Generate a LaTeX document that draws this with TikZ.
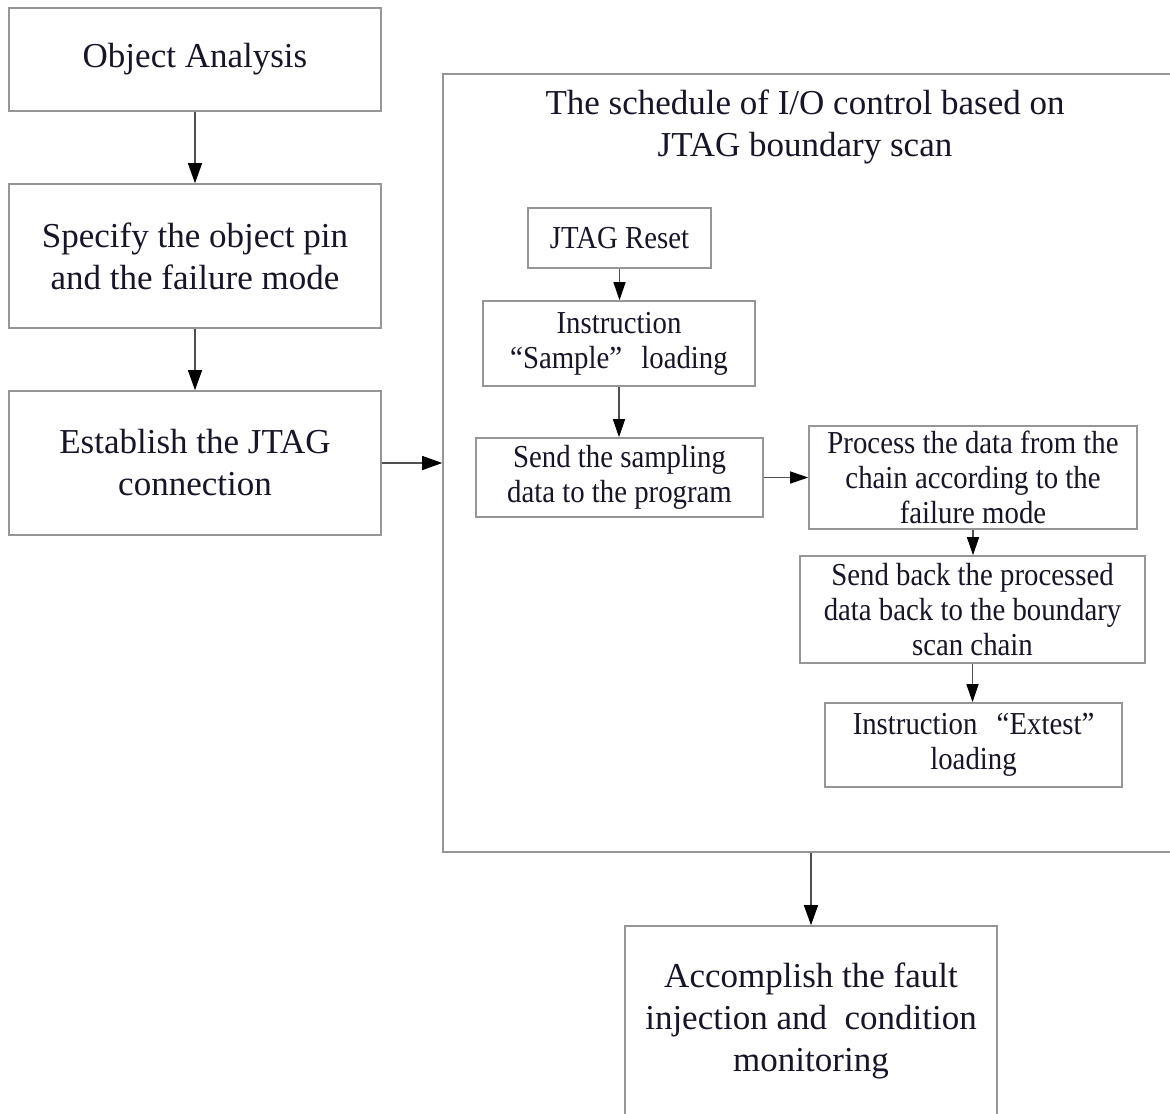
\documentclass[tikz,border=0pt]{standalone}
\usepackage{fontspec}
\setmainfont{Liberation Serif}
\newfontfamily\narrowfont[FakeStretch=0.9]{Liberation Serif}
\usetikzlibrary{arrows.meta}
\definecolor{txt}{RGB}{22,22,40}
\definecolor{edge}{RGB}{150,150,150}
\definecolor{conn}{RGB}{80,80,80}
\tikzset{
  bigtext/.style={font=\fontsize{17.5}{21}\selectfont, text=txt, align=center},
  smalltext/.style={font=\narrowfont\fontsize{16}{17.5}\selectfont, text=txt, align=center},
  box/.style={draw=edge, line width=0.8pt, rectangle, inner sep=0pt},
  bigbox/.style={box, bigtext},
  smallbox/.style={box, smalltext},
  bigarrow/.style={draw=conn, line width=0.6pt, -{Triangle[length=10pt,width=7pt,fill=black,color=black]}},
  smallarrow/.style={draw=conn, line width=0.6pt, -{Triangle[length=9pt,width=6pt,fill=black,color=black]}}
}
\begin{document}
\begin{tikzpicture}[x=0.5pt,y=-0.5pt]
\useasboundingbox (0,0) rectangle (1170,1113);
\fill[white] (0,0) rectangle (1170,1113);
\clip (0,0) rectangle (1170,1113);
% left column
\node[bigbox, minimum width=186pt, minimum height=51.5pt] (oa) at (195,59.5) {Object Analysis};
\node[bigbox, minimum width=186pt, minimum height=72pt] (sp) at (195,256) {Specify the object pin\\and the failure mode};
\node[bigbox, minimum width=186pt, minimum height=72pt] (es) at (195,463) {Establish the JTAG\\connection};
% big container
\node[box, minimum width=366pt, minimum height=389pt] (big) at (809,463) {};
\node[bigtext] (title) at (805,127) {The schedule of I/O control based on\\JTAG boundary scan};
% inner steps
\node[smallbox, minimum width=91.5pt, minimum height=30pt] (jr) at (619.5,238) {JTAG Reset};
\node[smallbox, minimum width=136pt, minimum height=42.5pt] (sa) at (619,343.5) {Instruction\\“Sample”\hspace{0.6em}loading};
\node[smallbox, minimum width=143.5pt, minimum height=39.5pt] (sd) at (619.5,477.5) {Send the sampling\\data to the program};
\node[smallbox, minimum width=164pt, minimum height=51.5pt] (pr) at (973,477.5) {Process the data from the\\chain according to the\\failure mode};
\node[smallbox, minimum width=172.5pt, minimum height=53.5pt] (sb) at (972.5,609.5) {Send back the processed\\data back to the boundary\\scan chain};
\node[smallbox, minimum width=148.5pt, minimum height=42pt] (ex) at (973.5,745) {Instruction\hspace{0.6em}“Extest”\\loading};
% final
\node[bigbox, minimum width=186pt, minimum height=95pt] (ac) at (811,1021) {Accomplish the fault\\injection and\hspace{0.5em}condition\\monitoring};
% connectors
\draw[bigarrow] (oa.south) -- (sp.north);
\draw[bigarrow] (sp.south) -- (es.north);
\draw[bigarrow] (es.east) -- (es.east -| big.west);
\draw[bigarrow] (ac.north |- big.south) -- (ac.north);
\draw[smallarrow] (jr.south) -- (jr.south |- sa.north);
\draw[smallarrow] (sa.south) -- (sa.south |- sd.north);
\draw[smallarrow] (sd.east) -- (pr.west);
\draw[smallarrow] (pr.south) -- (pr.south |- sb.north);
\draw[smallarrow] (sb.south) -- (sb.south |- ex.north);
\end{tikzpicture}
\end{document}
